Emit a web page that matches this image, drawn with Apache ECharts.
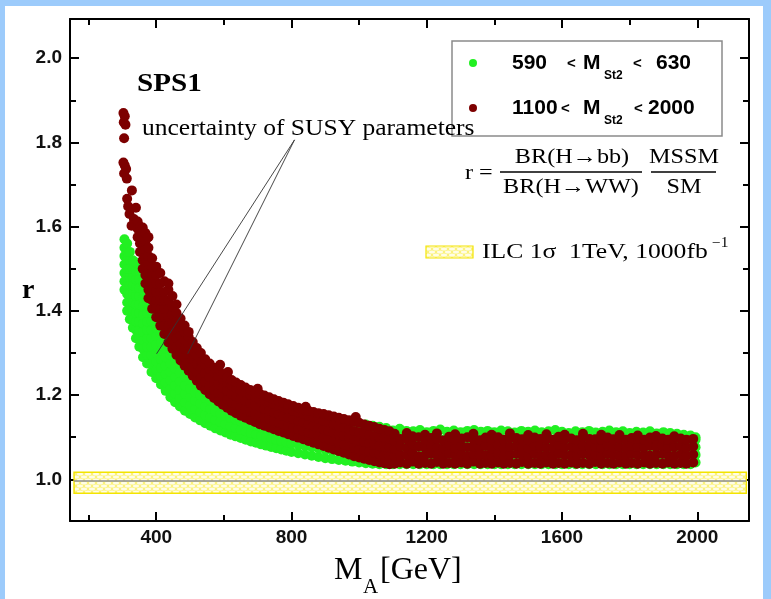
<!DOCTYPE html>
<html><head><meta charset="utf-8">
<script src="https://cdn.jsdelivr.net/npm/echarts@6.0.0/dist/echarts.min.js"></script>
<style>html,body{margin:0;padding:0;background:#fff}#c{width:771px;height:599px}</style>
</head><body><div id="c"></div>
<script>
// ---------------- data ----------------
const xMajorTicks = [400, 800, 1200, 1600, 2000];
const xMinorTicks = [200, 600, 1000, 1400, 1800];
const yMajorTicks = [1.0, 1.2, 1.4, 1.6, 1.8, 2.0];
const yMinorTicks = [1.1, 1.3, 1.5, 1.7, 1.9];

// 590 < M_St2 < 630 : columns [M_A, [r values]]
const greenCols = [
 [306,[1.45,1.47,1.49,1.51,1.53,1.55,1.57]],
 [314,[1.40,1.42,1.44,1.46,1.48,1.50,1.52,1.54,1.56]],
 [322,[1.38,1.40,1.42,1.44,1.46,1.48,1.50,1.52,1.54]],
 [331,[1.36,1.38,1.40,1.42,1.44,1.46,1.48,1.50,1.52]],
 [340,[1.335,1.355,1.375,1.395,1.415,1.435,1.455,1.475,1.495,1.515]],
 [350,[1.315,1.335,1.355,1.375,1.395,1.415,1.435,1.455,1.475,1.495]],
 [361,[1.29,1.31,1.33,1.35,1.37,1.39,1.41,1.43,1.45,1.47]],
 [373,[1.275,1.295,1.315,1.335,1.355,1.375,1.395,1.415,1.435]],
 [386,[1.255,1.275,1.295,1.315,1.335,1.355,1.375,1.395,1.415]],
 [400,[1.24,1.26,1.28,1.30,1.32,1.34,1.36,1.38,1.40]],
 [414,[1.225,1.245,1.265,1.285,1.305,1.325,1.345,1.365]],
 [428,[1.21,1.23,1.25,1.27,1.29,1.31,1.33,1.35]],
 [442,[1.195,1.215,1.235,1.255,1.275,1.295,1.315,1.335]],
 [456,[1.183,1.203,1.223,1.243,1.263,1.283,1.303,1.32]],
 [470,[1.173,1.193,1.213,1.233,1.253,1.273,1.293,1.31]],
 [485,[1.163,1.183,1.203,1.223,1.243,1.263,1.283]],
 [500,[1.155,1.175,1.195,1.215,1.235,1.255,1.275]],
 [515,[1.147,1.167,1.187,1.207,1.227,1.247,1.265]],
 [530,[1.14,1.16,1.18,1.20,1.22,1.24,1.255]],
 [545,[1.133,1.153,1.173,1.193,1.213,1.233,1.25]],
 [560,[1.127,1.147,1.167,1.187,1.207,1.227,1.245]],
 [575,[1.121,1.141,1.161,1.181,1.201,1.221,1.238]],
 [590,[1.116,1.136,1.156,1.176,1.196,1.216,1.232]],
 [605,[1.111,1.131,1.151,1.171,1.191,1.211,1.226]],
 [620,[1.106,1.126,1.146,1.166,1.186,1.206,1.22]],
 [635,[1.102,1.122,1.142,1.162,1.182,1.202,1.215]],
 [650,[1.098,1.118,1.138,1.158,1.178,1.198,1.21]],
 [665,[1.094,1.114,1.134,1.154,1.174,1.194,1.205]],
 [680,[1.09,1.11,1.13,1.15,1.17,1.19,1.20]],
 [695,[1.087,1.107,1.127,1.147,1.167,1.187,1.196]],
 [710,[1.083,1.103,1.123,1.143,1.163,1.183,1.192]],
 [725,[1.08,1.10,1.12,1.14,1.16,1.18,1.188]],
 [740,[1.077,1.097,1.117,1.137,1.157,1.177]],
 [755,[1.074,1.094,1.114,1.134,1.154,1.174]],
 [770,[1.071,1.091,1.111,1.131,1.151,1.17]],
 [785,[1.068,1.088,1.108,1.128,1.148,1.167]],
 [800,[1.065,1.085,1.105,1.125,1.145,1.164]],
 [820,[1.062,1.082,1.102,1.122,1.142,1.16]],
 [840,[1.059,1.079,1.099,1.119,1.139,1.156]],
 [860,[1.056,1.076,1.096,1.116,1.136,1.153]],
 [880,[1.053,1.073,1.093,1.113,1.133,1.15]],
 [900,[1.05,1.07,1.09,1.11,1.13,1.147]],
 [920,[1.048,1.068,1.088,1.108,1.128,1.144]],
 [940,[1.046,1.066,1.086,1.106,1.126,1.141]],
 [960,[1.044,1.064,1.084,1.104,1.124,1.138]],
 [980,[1.042,1.062,1.082,1.102,1.122,1.135]],
 [1000,[1.04,1.06,1.08,1.10,1.12,1.132]],
 [1020,[1.038,1.058,1.078,1.098,1.118,1.13]],
 [1040,[1.037,1.057,1.077,1.097,1.117,1.127]],
 [1060,[1.036,1.056,1.076,1.096,1.116,1.125]],
 [1080,[1.036,1.056,1.076,1.096,1.116,1.122]],
 [1100,[1.036,1.056,1.076,1.096,1.116]],
 [1120,[1.036,1.055,1.075,1.095,1.113,1.12]],
 [1140,[1.036,1.056,1.076,1.096,1.115]],
 [1160,[1.036,1.055,1.075,1.095,1.114]],
 [1180,[1.036,1.056,1.076,1.096,1.117]],
 [1200,[1.036,1.055,1.075,1.095,1.112]],
 [1220,[1.036,1.056,1.076,1.096,1.115]],
 [1240,[1.036,1.055,1.075,1.095,1.118]],
 [1260,[1.036,1.056,1.076,1.096,1.113]],
 [1280,[1.036,1.055,1.075,1.095,1.116]],
 [1300,[1.036,1.056,1.076,1.096,1.112]],
 [1320,[1.036,1.055,1.075,1.095,1.115]],
 [1340,[1.036,1.056,1.076,1.096,1.117]],
 [1360,[1.036,1.055,1.075,1.095,1.113]],
 [1380,[1.036,1.056,1.076,1.096,1.115]],
 [1400,[1.036,1.055,1.075,1.095,1.112]],
 [1420,[1.036,1.056,1.076,1.096,1.116]],
 [1440,[1.036,1.055,1.075,1.095,1.114]],
 [1460,[1.036,1.056,1.076,1.096,1.111]],
 [1480,[1.036,1.055,1.075,1.095,1.115]],
 [1500,[1.036,1.056,1.076,1.096,1.113]],
 [1520,[1.036,1.055,1.075,1.095,1.116]],
 [1540,[1.036,1.056,1.076,1.096,1.112]],
 [1560,[1.036,1.055,1.075,1.095,1.114]],
 [1580,[1.036,1.056,1.076,1.096,1.117]],
 [1600,[1.036,1.055,1.075,1.095,1.113]],
 [1620,[1.036,1.056,1.076,1.096,1.11]],
 [1640,[1.036,1.055,1.075,1.095,1.114]],
 [1660,[1.036,1.056,1.076,1.096,1.112]],
 [1680,[1.036,1.055,1.075,1.095,1.115]],
 [1700,[1.036,1.056,1.076,1.096,1.111]],
 [1720,[1.036,1.055,1.075,1.095,1.113]],
 [1740,[1.036,1.056,1.076,1.096,1.116]],
 [1760,[1.036,1.055,1.075,1.095,1.112]],
 [1780,[1.036,1.056,1.076,1.096,1.114]],
 [1800,[1.036,1.055,1.075,1.095,1.11]],
 [1820,[1.036,1.056,1.076,1.096,1.113]],
 [1840,[1.036,1.055,1.075,1.095,1.111]],
 [1860,[1.036,1.056,1.076,1.096,1.114]],
 [1880,[1.036,1.055,1.075,1.095,1.109]],
 [1900,[1.036,1.056,1.076,1.096,1.112]],
 [1920,[1.036,1.055,1.075,1.095,1.11]],
 [1940,[1.036,1.056,1.076,1.096,1.108]],
 [1960,[1.036,1.055,1.075,1.095,1.106]],
 [1980,[1.036,1.056,1.076,1.096,1.104]],
 [1995,[1.04,1.058,1.076,1.094,1.10]]
];

// 1100 < M_St2 < 2000 : scattered points at low M_A
const redLoose = [
 [303,1.87],[307,1.862],[304,1.848],[309,1.842],[305,1.81],
 [303,1.752],[307,1.745],[311,1.737],[305,1.726],[313,1.714],
 [328,1.686],[314,1.666],[317,1.648],[321,1.63],[334,1.618],[327,1.602],
 [340,1.645],[589,1.272],[612,1.255],[700,1.215],[842,1.172],[990,1.148]
];
// 1100 < M_St2 < 2000 : columns [M_A, [r values]]
const redCols = [
 [345,[1.575,1.595,1.612]],
 [352,[1.54,1.56,1.58,1.60]],
 [360,[1.50,1.52,1.54,1.56,1.58,1.598]],
 [368,[1.465,1.485,1.505,1.525,1.545,1.565,1.585]],
 [377,[1.43,1.45,1.47,1.49,1.51,1.53,1.55,1.575]],
 [388,[1.405,1.425,1.445,1.465,1.485,1.505,1.525]],
 [400,[1.385,1.405,1.425,1.445,1.465,1.485,1.505]],
 [412,[1.365,1.385,1.405,1.425,1.445,1.465,1.49]],
 [424,[1.345,1.365,1.385,1.405,1.425,1.445,1.47]],
 [436,[1.325,1.345,1.365,1.385,1.405,1.425,1.45,1.465]],
 [448,[1.31,1.33,1.35,1.37,1.39,1.41,1.435]],
 [460,[1.295,1.315,1.335,1.355,1.375,1.395,1.415]],
 [472,[1.282,1.302,1.322,1.342,1.362,1.382]],
 [484,[1.27,1.29,1.31,1.33,1.35,1.365]],
 [496,[1.258,1.278,1.298,1.318,1.338,1.35]],
 [508,[1.246,1.266,1.286,1.306,1.326]],
 [520,[1.234,1.254,1.274,1.294,1.312]],
 [532,[1.222,1.242,1.262,1.282,1.30]],
 [545,[1.212,1.232,1.252,1.272,1.285]],
 [558,[1.202,1.222,1.242,1.262,1.275]],
 [571,[1.193,1.213,1.233,1.253,1.265]],
 [584,[1.185,1.205,1.225,1.245,1.262]],
 [597,[1.177,1.197,1.217,1.237,1.25]],
 [610,[1.17,1.19,1.21,1.23,1.242]],
 [623,[1.163,1.183,1.203,1.223,1.236]],
 [636,[1.157,1.177,1.197,1.217,1.23]],
 [650,[1.151,1.171,1.191,1.211,1.224]],
 [664,[1.146,1.166,1.186,1.206,1.218]],
 [678,[1.141,1.161,1.181,1.201,1.212]],
 [692,[1.136,1.156,1.176,1.196,1.207]],
 [706,[1.131,1.151,1.171,1.191,1.203]],
 [720,[1.127,1.147,1.167,1.187,1.199]],
 [734,[1.123,1.143,1.163,1.183,1.195]],
 [748,[1.119,1.139,1.159,1.179,1.19]],
 [762,[1.115,1.135,1.155,1.175,1.186]],
 [776,[1.111,1.131,1.151,1.171,1.182]],
 [790,[1.107,1.127,1.147,1.167,1.178]],
 [805,[1.103,1.123,1.143,1.163,1.174]],
 [820,[1.099,1.119,1.139,1.159,1.17]],
 [835,[1.095,1.115,1.135,1.155,1.166]],
 [850,[1.091,1.111,1.131,1.151,1.163]],
 [865,[1.087,1.107,1.127,1.147,1.16]],
 [880,[1.083,1.103,1.123,1.143,1.157]],
 [895,[1.079,1.099,1.119,1.139,1.155]],
 [910,[1.075,1.095,1.115,1.135,1.152]],
 [925,[1.071,1.091,1.111,1.131,1.149]],
 [940,[1.067,1.087,1.107,1.127,1.146]],
 [955,[1.063,1.083,1.103,1.123,1.143]],
 [970,[1.059,1.079,1.099,1.119,1.14]],
 [985,[1.055,1.075,1.095,1.115,1.137]],
 [1000,[1.052,1.072,1.092,1.112,1.134]],
 [1015,[1.049,1.069,1.089,1.109,1.13]],
 [1030,[1.046,1.066,1.086,1.106,1.127]],
 [1045,[1.043,1.063,1.083,1.103,1.124]],
 [1060,[1.04,1.06,1.08,1.10,1.12]],
 [1075,[1.038,1.058,1.078,1.098,1.117]],
 [1090,[1.036,1.056,1.076,1.096,1.114]],
 [1105,[1.037,1.055,1.073,1.091,1.108]],
 [1122,[1.04,1.058,1.078,1.096]],
 [1141,[1.037,1.057,1.075,1.095,1.11]],
 [1158,[1.042,1.062,1.083,1.102]],
 [1176,[1.037,1.055,1.078,1.10]],
 [1195,[1.039,1.057,1.075,1.093,1.106]],
 [1213,[1.037,1.06,1.08,1.098]],
 [1230,[1.041,1.058,1.076,1.096,1.109]],
 [1249,[1.037,1.055,1.073,1.092]],
 [1266,[1.039,1.061,1.082,1.101]],
 [1284,[1.037,1.056,1.074,1.094,1.107]],
 [1303,[1.04,1.059,1.079,1.097]],
 [1320,[1.037,1.055,1.076,1.1]],
 [1338,[1.042,1.06,1.078,1.095,1.108]],
 [1357,[1.037,1.057,1.075,1.093]],
 [1374,[1.039,1.058,1.08,1.099]],
 [1392,[1.037,1.055,1.073,1.094,1.106]],
 [1411,[1.04,1.061,1.081,1.1]],
 [1428,[1.037,1.056,1.075,1.094]],
 [1446,[1.039,1.058,1.077,1.097,1.109]],
 [1465,[1.037,1.06,1.08,1.098]],
 [1482,[1.041,1.058,1.076,1.095]],
 [1500,[1.037,1.055,1.074,1.093,1.105]],
 [1519,[1.039,1.06,1.08,1.099]],
 [1536,[1.037,1.056,1.077,1.096]],
 [1554,[1.04,1.058,1.076,1.095,1.107]],
 [1573,[1.037,1.055,1.075,1.094]],
 [1590,[1.039,1.061,1.082,1.101]],
 [1608,[1.037,1.057,1.076,1.095,1.106]],
 [1627,[1.04,1.058,1.078,1.097]],
 [1644,[1.037,1.056,1.074,1.093]],
 [1662,[1.039,1.06,1.08,1.1,1.108]],
 [1681,[1.037,1.057,1.077,1.096]],
 [1698,[1.041,1.059,1.078,1.095]],
 [1716,[1.037,1.055,1.074,1.094,1.106]],
 [1735,[1.039,1.06,1.081,1.099]],
 [1752,[1.037,1.057,1.076,1.095]],
 [1770,[1.04,1.058,1.077,1.096,1.105]],
 [1789,[1.037,1.056,1.075,1.094]],
 [1806,[1.039,1.06,1.08,1.098]],
 [1824,[1.037,1.057,1.077,1.096,1.104]],
 [1843,[1.04,1.058,1.076,1.094]],
 [1860,[1.037,1.056,1.079,1.099]],
 [1878,[1.039,1.058,1.077,1.095,1.103]],
 [1897,[1.037,1.06,1.08,1.097]],
 [1914,[1.04,1.057,1.075,1.094]],
 [1932,[1.037,1.056,1.077,1.096,1.102]],
 [1951,[1.039,1.059,1.079,1.097]],
 [1968,[1.037,1.056,1.075,1.094]],
 [1988,[1.04,1.059,1.078,1.096]]
];

// ILC 1 sigma band and its central value
const ilcBandX = [157, 2145];
const ilcBandR = [0.967, 1.0166];
const ilcCentre = 0.997;
// annotation: "uncertainty of SUSY parameters" pointer lines [from, to] in (M_A, r)
const pointerFrom = [809, 1.806];
const pointerTo = [[401, 1.298], [493, 1.298]];

// ---------------- chart ----------------
function flatten(cols){ const out=[]; cols.forEach(c=>c[1].forEach(y=>out.push([c[0],y]))); return out; }
const greenData = flatten(greenCols);
const redData = redLoose.concat(flatten(redCols));

function hatch(){
  const c=document.createElement('canvas'); c.width=8; c.height=6;
  const g=c.getContext('2d');
  g.fillStyle='#fbf27c'; g.fillRect(0,0,8,6);
  g.fillStyle='#fffde6';
  g.beginPath(); g.ellipse(4,3,3,1.5,0,0,Math.PI*2); g.fill();
  g.beginPath(); g.ellipse(0,0,3,1.5,0,0,Math.PI*2); g.fill();
  g.beginPath(); g.ellipse(8,0,3,1.5,0,0,Math.PI*2); g.fill();
  g.beginPath(); g.ellipse(0,6,3,1.5,0,0,Math.PI*2); g.fill();
  g.beginPath(); g.ellipse(8,6,3,1.5,0,0,Math.PI*2); g.fill();
  return c;
}
const pat = {image: hatch(), repeat: 'repeat'};

const tickFont = {fontFamily:'Liberation Sans', fontWeight:'bold', fontSize:19, color:'#111'};
function xAx(pos, vals, len, label, line){
  return {type:'value', position:pos, min:145, max:2153, gridIndex:0,
    axisLine:{show:line, onZero:false, lineStyle:{color:'#000', width:2}},
    axisTick:{show:true, inside:true, length:len, customValues:vals, lineStyle:{color:'#000', width:2}},
    axisLabel:Object.assign({show:label, customValues:vals, margin:7, formatter:v=>String(v)}, tickFont),
    splitLine:{show:false}};
}
function yAx(pos, vals, len, label, line){
  return {type:'value', position:pos, min:0.901, max:2.093, gridIndex:0,
    axisLine:{show:line, onZero:false, lineStyle:{color:'#000', width:2}},
    axisTick:{show:true, inside:true, length:len, customValues:vals, lineStyle:{color:'#000', width:2}},
    axisLabel:Object.assign({show:label, customValues:vals, margin:8, formatter:v=>v.toFixed(1)}, tickFont),
    splitLine:{show:false}};
}

const serif = '"Liberation Serif", "DejaVu Serif", serif';
const sans = '"Liberation Sans", "DejaVu Sans", sans-serif';
function txt(x,y,text,font,opt,align){
  return Object.assign({type:'text', x:x, y:y, z:100,
    style:{text:text, font:font, fill:'#000', align:align||'left', verticalAlign:'middle'}}, opt||{});
}

const graphic = [
  {type:'rect', shape:{x:0,y:0,width:5,height:599}, style:{fill:'#9ccbfb'}, z:100},
  {type:'rect', shape:{x:0,y:0,width:771,height:6}, style:{fill:'#9ccbfb'}, z:100},
  {type:'rect', shape:{x:763,y:0,width:8,height:599}, style:{fill:'#9ccbfb'}, z:100},
  // legend box
  {type:'rect', shape:{x:452,y:41,width:270,height:95}, style:{fill:'#fff', stroke:'#8a8a8a', lineWidth:1.5}, z:90},
  {type:'circle', shape:{cx:473,cy:63,r:4}, style:{fill:'#22f022'}, z:100},
  {type:'circle', shape:{cx:473,cy:108,r:4}, style:{fill:'#7d0000'}, z:100},
  txt(512,63,'590','bold 21px '+sans),
  txt(567,64,'<','bold 15px '+sans),
  txt(583,63,'M','bold 21px '+sans),
  txt(604,76,'St2','bold 12px '+sans),
  txt(633,64,'<','bold 15px '+sans),
  txt(656,63,'630','bold 21px '+sans),
  txt(512,108,'1100','bold 21px '+sans),
  txt(561,109,'<','bold 15px '+sans),
  txt(583,108,'M','bold 21px '+sans),
  txt(604,121,'St2','bold 12px '+sans),
  txt(634,109,'<','bold 15px '+sans),
  txt(648,108,'2000','bold 21px '+sans),
  // formula
  txt(465,173,'r =','22px '+serif,{scaleX:1.1}),
  txt(572,157,'BR(H\u2192bb)','22px '+serif,{scaleX:1.1},'center'),
  txt(571,187,'BR(H\u2192WW)','22px '+serif,{scaleX:1.1},'center'),
  {type:'line', shape:{x1:500,y1:172,x2:642,y2:172}, style:{stroke:'#000', lineWidth:1.3}, z:100},
  txt(684,157,'MSSM','22px '+serif,{scaleX:1.1},'center'),
  txt(684,187,'SM','22px '+serif,{scaleX:1.1},'center'),
  {type:'line', shape:{x1:651,y1:172,x2:716,y2:172}, style:{stroke:'#000', lineWidth:1.3}, z:100},
  // ILC legend
  {type:'rect', shape:{x:426,y:246,width:47,height:12}, style:{fill:pat, stroke:'#f3e400', lineWidth:1.2}, z:100},
  txt(482,252,'ILC 1\u03c3  1TeV, 1000fb','21px '+serif,{scaleX:1.22}),
  txt(712,243,'\u22121','14px '+serif,{scaleX:1.1}),
  // annotations
  txt(137,84,'SPS1','bold 26px '+serif,{scaleX:1.12}),
  txt(142,129,'uncertainty of SUSY parameters','23px '+serif,{scaleX:1.11}),
  // axis titles
  txt(334,571,'M','32px '+serif),
  txt(363,587,'A','21px '+serif),
  txt(380,571,'[GeV]','32px '+serif),
  txt(22,291,'r','bold 28px '+serif)
];

const chart = echarts.init(document.getElementById('c'), null, {renderer:'canvas'});
chart.setOption({
  animation:false,
  backgroundColor:'#fff',
  grid:{left:70, right:22, top:19, bottom:78, containLabel:false},
  xAxis:[xAx('bottom',xMajorTicks,9,true,true), xAx('bottom',xMinorTicks,6,false,false),
         xAx('top',xMajorTicks,9,false,true), xAx('top',xMinorTicks,6,false,false)],
  yAxis:[yAx('left',yMajorTicks,9,true,true), yAx('left',yMinorTicks,6,false,false),
         yAx('right',yMajorTicks,9,false,true), yAx('right',yMinorTicks,6,false,false)],
  series:[
    {type:'scatter', name:'590 < M_St2 < 630', xAxisIndex:0, yAxisIndex:0, data:greenData,
     symbol:'circle', symbolSize:10, itemStyle:{color:'#22f022', opacity:1}, silent:true, z:2,
     markArea:{silent:true, itemStyle:{color:pat, borderColor:'#f3e400', borderWidth:1.5},
       data:[[{xAxis:ilcBandX[0], yAxis:ilcBandR[0]},{xAxis:ilcBandX[1], yAxis:ilcBandR[1]}]]},
     markLine:{silent:true, symbol:['none','none'], label:{show:false}, lineStyle:{color:'#8c8c8c', width:1.5, type:'solid'},
       data:[[{coord:[ilcBandX[0], ilcCentre]},{coord:[ilcBandX[1], ilcCentre]}]]}},
    {type:'scatter', name:'1100 < M_St2 < 2000', xAxisIndex:0, yAxisIndex:0, data:redData,
     symbol:'circle', symbolSize:10, itemStyle:{color:'#7d0000', opacity:1}, silent:true, z:3,
     markLine:{silent:true, symbol:['none','none'], label:{show:false}, lineStyle:{color:'#333', width:0.9, type:'solid'},
       data:pointerTo.map(p=>[{coord:pointerFrom},{coord:p}])}}
  ],
  graphic:graphic
});
</script></body></html>
